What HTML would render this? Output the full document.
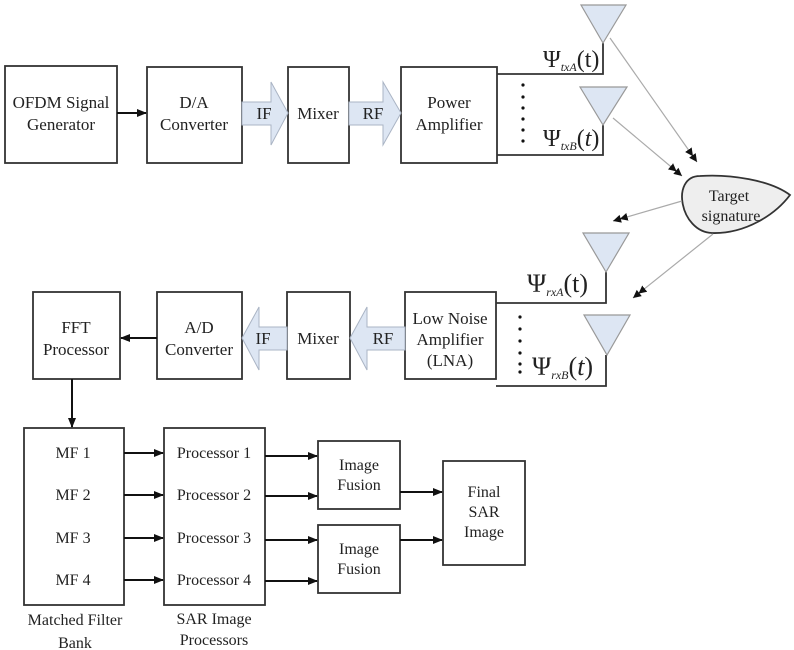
<!DOCTYPE html>
<html><head><meta charset="utf-8"><style>
html,body{margin:0;padding:0;background:#fff;}
svg{display:block;}
text{font-family:"Liberation Serif",serif;fill:#222;}
</style></head><body>
<svg width="794" height="650" viewBox="0 0 794 650" xmlns="http://www.w3.org/2000/svg">
<defs>
<marker id="ah" markerWidth="10" markerHeight="10" refX="9" refY="5" orient="auto" markerUnits="userSpaceOnUse"><path d="M0,1 L10,5 L0,9 z" fill="#111"/></marker>
<marker id="dh" markerWidth="16" markerHeight="10" refX="15" refY="5" orient="auto" markerUnits="userSpaceOnUse"><path d="M0,1 L8,5 L0,9 z M7,1 L15,5 L7,9 z" fill="#111"/></marker>
</defs>
<g fill="none" stroke="#333" stroke-width="1.8">
<rect x="5" y="66" width="112" height="97"/>
<rect x="147" y="67" width="95" height="96"/>
<rect x="288" y="67" width="61" height="96"/>
<rect x="401" y="67" width="96" height="96"/>
<polyline points="497,74 603,74 603,43"/>
<polyline points="497,155 603,155 603,125"/>
<rect x="33" y="292" width="87" height="87"/>
<rect x="157" y="292" width="85" height="87"/>
<rect x="287" y="292" width="63" height="87"/>
<rect x="405" y="292" width="91" height="87"/>
<polyline points="496,303 606,303 606,272"/>
<polyline points="496,386 606,386 606,355"/>
<rect x="24" y="428" width="100" height="177"/>
<rect x="164" y="428" width="101" height="177"/>
<rect x="318" y="441" width="82" height="68"/>
<rect x="318" y="525" width="82" height="68"/>
<rect x="443" y="461" width="82" height="104"/>
</g>
<g fill="#dde6f3" stroke="#aab4c4" stroke-width="1">
<polygon points="242,102 271,102 271,82 288,113 271,145 271,125 242,125"/>
<polygon points="349,102 383,102 383,82 401,113 383,145 383,125 349,125"/>
<polygon points="287,327 259,327 259,307 242,338 259,370 259,350 287,350"/>
<polygon points="405,327 367,327 367,307 350,338 367,370 367,350 405,350"/>
</g>
<g fill="#dde6f3" stroke="#999" stroke-width="1.2">
<polygon points="581,5 626,5 603,43"/>
<polygon points="580,87 627,87 603,125"/>
<polygon points="583,233 629,233 606,272"/>
<polygon points="584,315 630,315 607,355"/>
</g>
<path d="M700,176 C670,176 680,232 712,233 C745,234 775,215 790,195 C770,180 730,174 700,176 Z" fill="#eeeeee" stroke="#333" stroke-width="1.8"/>
<text x="729" y="201" font-size="16" text-anchor="middle">Target</text>
<text x="731" y="221" font-size="16" text-anchor="middle">signature</text>
<g stroke="#aaa" stroke-width="1.2" fill="none">
<line x1="610" y1="38" x2="697" y2="162" marker-end="url(#dh)"/>
<line x1="613" y1="118" x2="682" y2="176" marker-end="url(#dh)"/>
<line x1="682" y1="201" x2="613" y2="221" marker-end="url(#dh)"/>
<line x1="713" y1="234" x2="633" y2="298" marker-end="url(#dh)"/>
</g>
<g stroke="#111" stroke-width="2" fill="none">
<line x1="117" y1="113" x2="146" y2="113" marker-end="url(#ah)"/>
<line x1="157" y1="338" x2="121" y2="338" marker-end="url(#ah)"/>
<line x1="72" y1="379" x2="72" y2="427" marker-end="url(#ah)"/>
<line x1="124" y1="453" x2="163" y2="453" marker-end="url(#ah)"/>
<line x1="124" y1="495" x2="163" y2="495" marker-end="url(#ah)"/>
<line x1="124" y1="538" x2="163" y2="538" marker-end="url(#ah)"/>
<line x1="124" y1="580" x2="163" y2="580" marker-end="url(#ah)"/>
<line x1="265" y1="456" x2="317" y2="456" marker-end="url(#ah)"/>
<line x1="265" y1="496" x2="317" y2="496" marker-end="url(#ah)"/>
<line x1="265" y1="540" x2="317" y2="540" marker-end="url(#ah)"/>
<line x1="265" y1="581" x2="317" y2="581" marker-end="url(#ah)"/>
<line x1="400" y1="492" x2="442" y2="492" marker-end="url(#ah)"/>
<line x1="400" y1="540" x2="442" y2="540" marker-end="url(#ah)"/>
</g>
<g fill="#111">
<circle cx="523" cy="85" r="1.6"/><circle cx="523" cy="97" r="1.6"/><circle cx="523" cy="108" r="1.6"/><circle cx="523" cy="119" r="1.6"/><circle cx="523" cy="130" r="1.6"/><circle cx="523" cy="141" r="1.6"/>
<circle cx="520" cy="317" r="1.6"/><circle cx="520" cy="329" r="1.6"/><circle cx="520" cy="341" r="1.6"/><circle cx="520" cy="353" r="1.6"/><circle cx="520" cy="364" r="1.6"/><circle cx="520" cy="372" r="1.6"/>
</g>
<g font-size="17" text-anchor="middle">
<text x="61" y="108">OFDM Signal</text><text x="61" y="130">Generator</text>
<text x="194" y="108">D/A</text><text x="194" y="130">Converter</text>
<text x="318" y="119">Mixer</text>
<text x="449" y="108">Power</text><text x="449" y="130">Amplifier</text>
<text x="264" y="119">IF</text><text x="373" y="119">RF</text>
<text x="76" y="333">FFT</text><text x="76" y="355">Processor</text>
<text x="199" y="333">A/D</text><text x="199" y="355">Converter</text>
<text x="318" y="344">Mixer</text>
<text x="450" y="324">Low Noise</text><text x="450" y="345">Amplifier</text><text x="450" y="366">(LNA)</text>
<text x="263" y="344">IF</text><text x="383" y="344">RF</text>
</g>
<g font-size="16" text-anchor="middle">
<text x="73" y="458">MF 1</text><text x="73" y="500">MF 2</text><text x="73" y="543">MF 3</text><text x="73" y="585">MF 4</text>
<text x="214" y="458">Processor 1</text><text x="214" y="500">Processor 2</text><text x="214" y="543">Processor 3</text><text x="214" y="585">Processor 4</text>
<text x="359" y="470">Image</text><text x="359" y="490">Fusion</text>
<text x="359" y="554">Image</text><text x="359" y="574">Fusion</text>
<text x="484" y="497">Final</text><text x="484" y="517">SAR</text><text x="484" y="537">Image</text>
<text x="75" y="625">Matched Filter</text><text x="75" y="648">Bank</text>
<text x="214" y="624">SAR Image</text><text x="214" y="645">Processors</text>
</g>
<g font-size="24">
<text x="543" y="67">Ψ<tspan font-size="12" font-style="italic" dy="4">txA</tspan><tspan dy="-4">(t)</tspan></text>
<text x="543" y="146">Ψ<tspan font-size="12" font-style="italic" dy="4">txB</tspan><tspan dy="-4">(<tspan font-style="italic">t</tspan>)</tspan></text>
<text x="527" y="292" font-size="26">Ψ<tspan font-size="12" font-style="italic" dy="4">rxA</tspan><tspan dy="-4">(t)</tspan></text>
<text x="532" y="375" font-size="26">Ψ<tspan font-size="12" font-style="italic" dy="4">rxB</tspan><tspan dy="-4">(<tspan font-style="italic">t</tspan>)</tspan></text>
</g>
</svg>
</body></html>
